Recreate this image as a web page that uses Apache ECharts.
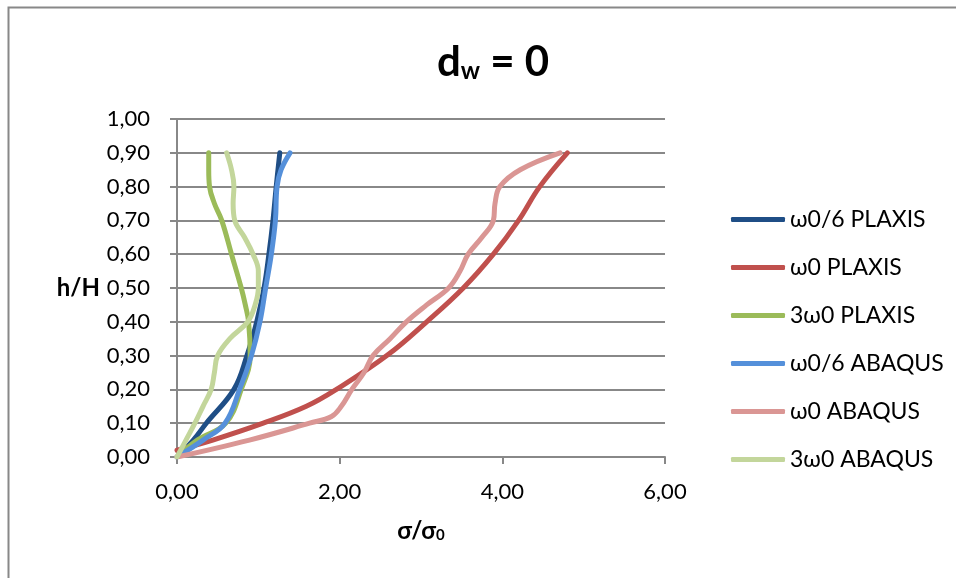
<!DOCTYPE html>
<html>
<head>
<meta charset="utf-8">
<script src="https://cdn.jsdelivr.net/npm/echarts@6/dist/echarts.min.js"></script>
<style>
html,body{margin:0;padding:0;background:#fff;}
#chart{width:956px;height:578px;}
</style>
</head>
<body>
<div id="chart"></div>
<script>
var seriesNames = ["ω0/6 PLAXIS", "ω0 PLAXIS", "3ω0 PLAXIS", "ω0/6 ABAQUS", "ω0 ABAQUS", "3ω0 ABAQUS"];
var seriesColors = ["#1F4E86", "#C0504D", "#9BBB59", "#5590DA", "#DA9694", "#C3D69B"];

var xTicks = [0, 2, 4, 6];
var yTicks = [0, 0.1, 0.2, 0.3, 0.4, 0.5, 0.6, 0.7, 0.8, 0.9, 1.0];

// each series: sigma/sigma0 values (x) and h/H values (y)
var plaxis6_x = [0, 0.20, 0.36, 0.70, 0.86, 0.98, 1.07, 1.13, 1.18, 1.22, 1.264];
var plaxis6_y = [0, 0.05, 0.10, 0.20, 0.30, 0.40, 0.50, 0.60, 0.70, 0.80, 0.90];

var plaxis1_x = [0, 0.44, 1.06, 1.59, 1.96, 2.58, 3.07, 3.52, 3.89, 4.20, 4.46, 4.80];
var plaxis1_y = [0.02, 0.05, 0.10, 0.15, 0.20, 0.30, 0.40, 0.50, 0.60, 0.70, 0.80, 0.90];

var plaxis3_x = [0, 0.25, 0.60, 0.79, 0.90, 0.88, 0.84, 0.79, 0.67, 0.55, 0.46, 0.40, 0.39, 0.39];
var plaxis3_y = [0, 0.05, 0.10, 0.20, 0.30, 0.40, 0.45, 0.50, 0.60, 0.70, 0.75, 0.80, 0.85, 0.90];

var abaqus6_x = [0, 0.32, 0.59, 0.77, 0.915, 1.02, 1.09, 1.16, 1.21, 1.23, 1.28, 1.39];
var abaqus6_y = [0, 0.05, 0.10, 0.20, 0.30, 0.40, 0.50, 0.60, 0.70, 0.80, 0.85, 0.90];

var abaqus1_x = [0, 0.89, 1.63, 1.90, 2.02, 2.15, 2.30, 2.41, 2.62, 2.82, 3.07, 3.34, 3.48, 3.58, 3.75, 3.89, 3.91, 3.97, 4.22, 4.71];
var abaqus1_y = [0, 0.05, 0.10, 0.12, 0.15, 0.20, 0.25, 0.30, 0.35, 0.40, 0.45, 0.50, 0.55, 0.60, 0.65, 0.70, 0.75, 0.80, 0.85, 0.90];

var abaqus3_x = [0, 0.11, 0.22, 0.32, 0.42, 0.46, 0.50, 0.65, 0.87, 0.96, 1.00, 1.00, 0.935, 0.83, 0.71, 0.69, 0.70, 0.67, 0.61];
var abaqus3_y = [0, 0.05, 0.10, 0.15, 0.20, 0.25, 0.30, 0.35, 0.40, 0.45, 0.50, 0.55, 0.60, 0.65, 0.70, 0.75, 0.80, 0.85, 0.90];

var seriesX = [plaxis6_x, plaxis1_x, plaxis3_x, abaqus6_x, abaqus1_x, abaqus3_x];
var seriesY = [plaxis6_y, plaxis1_y, plaxis3_y, abaqus6_y, abaqus1_y, abaqus3_y];

function pairs(xs, ys) {
  var out = [];
  for (var i = 0; i < xs.length; i++) out.push([xs[i], ys[i]]);
  return out;
}
function fmt(v) { return v.toFixed(2).replace('.', ','); }

var FONT = 'Lato';
var series = seriesNames.map(function (name, i) {
  return {
    name: name,
    type: 'line',
    data: pairs(seriesX[i], seriesY[i]),
    smooth: 0.4,
    showSymbol: false,
    symbol: 'none',
    lineStyle: { color: seriesColors[i], width: 5, cap: 'round', join: 'round' },
    itemStyle: { color: seriesColors[i] },
    z: 2 + i
  };
});

var chart = echarts.init(document.getElementById('chart'), null, { renderer: 'canvas' });
chart.setOption({
  animation: false,
  backgroundColor: '#ffffff',
  textStyle: { fontFamily: FONT },
  graphic: [{
    type: 'rect', shape: { x: 8.5, y: 7.5, width: 1000, height: 1000 },
    style: { fill: 'none', stroke: '#888888', lineWidth: 2 }, silent: true
  }],
  title: {
    text: '{a|d}{b|w}{a| = 0}',
    left: 488, top: 36, textAlign: 'center',
    textStyle: {
      rich: {
        a: { fontFamily: FONT, fontSize: 42, fontWeight: 'bold', color: '#000' },
        b: { fontFamily: FONT, fontSize: 24, fontWeight: 'bold', color: '#000', verticalAlign: 'bottom', padding: [18, 0, 0, 0] }
      }
    }
  },
  legend: {
    orient: 'vertical',
    left: 726, top: 203,
    itemWidth: 54, itemHeight: 5, itemGap: 25,
    icon: 'roundRect',
    textStyle: { fontFamily: FONT, fontSize: 23, color: '#000', padding: [0, 0, 0, 0] },
    data: seriesNames
  },
  grid: { left: 177, top: 119, width: 488, height: 338, containLabel: false },
  xAxis: {
    type: 'value', min: xTicks[0], max: xTicks[xTicks.length - 1], interval: 2,
    name: '{a|σ/σ}{b|0}', nameLocation: 'middle', nameGap: 62,
    nameTextStyle: {
      rich: {
        a: { fontFamily: FONT, fontSize: 24, fontWeight: 'bold', color: '#000' },
        b: { fontFamily: FONT, fontSize: 15, fontWeight: 'bold', color: '#000', padding: [9, 0, 0, 0] }
      }
    },
    axisLine: { show: true, lineStyle: { color: '#888888', width: 2 } },
    axisTick: { show: true, inside: false, length: 7, lineStyle: { color: '#888888', width: 2 } },
    axisLabel: { fontFamily: FONT, fontSize: 22, color: '#000', margin: 24, formatter: fmt },
    splitLine: { show: false }
  },
  yAxis: {
    type: 'value', min: yTicks[0], max: yTicks[yTicks.length - 1], interval: 0.1,
    name: 'h/H', nameLocation: 'middle', nameGap: 77, nameRotate: 0,
    nameTextStyle: { fontFamily: FONT, fontSize: 24, fontWeight: 'bold', color: '#000' },
    axisLine: { show: true, lineStyle: { color: '#888888', width: 2 } },
    axisTick: { show: true, inside: false, length: 7, lineStyle: { color: '#888888', width: 2 } },
    axisLabel: { fontFamily: FONT, fontSize: 22, color: '#000', margin: 27, formatter: fmt },
    splitLine: { show: true, lineStyle: { color: '#888888', width: 2 } }
  },
  series: series
});
</script>
</body>
</html>
